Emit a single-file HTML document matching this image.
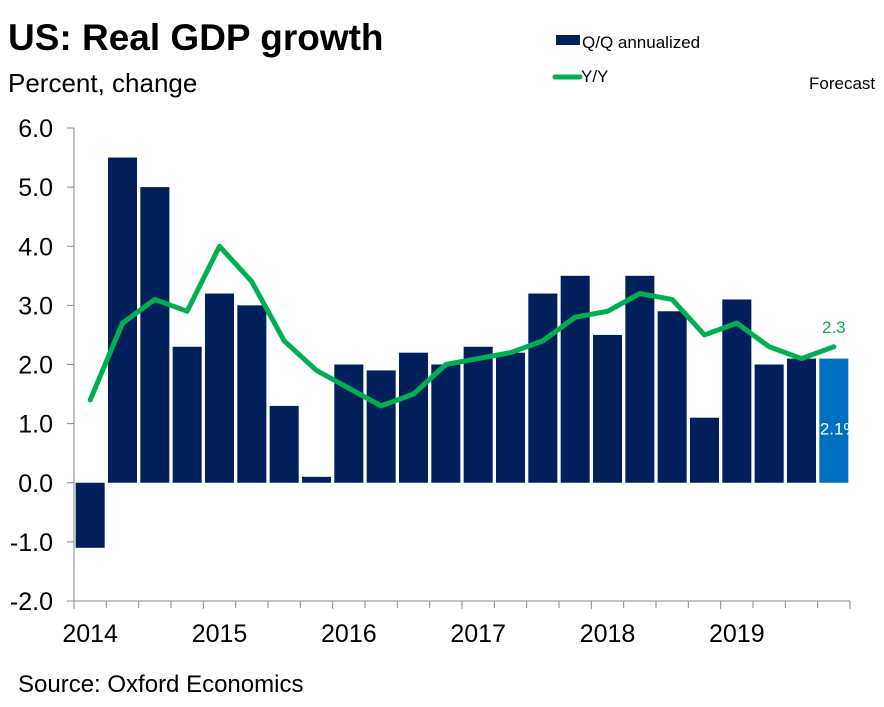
<!DOCTYPE html>
<html><head><meta charset="utf-8">
<style>
body{margin:0;background:#fff;width:884px;height:707px;overflow:hidden;font-family:"Liberation Sans",Arial,sans-serif}
svg{position:absolute;left:0;top:0}
</style></head>
<body>
<svg id="chart" width="884" height="707">
<text x="8" y="50" font-size="37" font-weight="bold" fill="#000">US: Real GDP growth</text>
<text x="8" y="92" font-size="26" fill="#000">Percent, change</text>
<rect x="556" y="35" width="24" height="10" fill="#001f5b"/>
<text x="582" y="48" font-size="17" fill="#000">Q/Q annualized</text>
<line x1="555" y1="77" x2="580" y2="77" stroke="#00b050" stroke-width="5" stroke-linecap="round"/>
<text x="581" y="82" font-size="17" fill="#000">Y/Y</text>
<text x="809" y="89" font-size="17" fill="#000">Forecast</text>
<text x="18" y="692" font-size="24" fill="#000">Source: Oxford Economics</text>
</svg>
<script>
const quarterly=[-1.1,5.5,5.0,2.3,3.2,3.0,1.3,0.1,2.0,1.9,2.2,2.0,2.3,2.2,3.2,3.5,2.5,3.5,2.9,1.1,3.1,2.0,2.1,2.1];
const yoy=[1.4,2.7,3.1,2.9,4.0,3.4,2.4,1.9,1.6,1.3,1.5,2.0,2.1,2.2,2.4,2.8,2.9,3.2,3.1,2.5,2.7,2.3,2.1,2.3];
const yTicks=[-2,-1,0,1,2,3,4,5,6];
const years=["2014","2015","2016","2017","2018","2019"];
const forecastFrom=23;
const NS="http://www.w3.org/2000/svg";
const svg=document.getElementById('chart');
const x0=74,x1=850,yTop=128,yBot=601,vMin=-2,vMax=6;
const n=quarterly.length,step=(x1-x0)/n;
const Y=v=>yBot-(v-vMin)/(vMax-vMin)*(yBot-yTop);
const X=i=>x0+step*(i+0.5);
function el(t,a){const e=document.createElementNS(NS,t);for(const k in a)e.setAttribute(k,a[k]);svg.appendChild(e);return e;}
let ax=el('line',{x1:x0,y1:yTop,x2:x0,y2:yBot,stroke:'#888','stroke-width':1});


yTicks.forEach(v=>{
 const t=el('line',{x1:x0-7,x2:x0,y1:Y(v),y2:Y(v),stroke:'#888'});
 
 
 const l=el('text',{x:x0-21,y:Y(v)+9,'text-anchor':'end','font-size':25,fill:'#000'});
 l.textContent=v.toFixed(1);
 
 
});
let xa=el('line',{x1:x0,y1:yBot,x2:x1,y2:yBot,stroke:'#888'});


for(let k=0;k<=n;k++){
 const xx=x0+k*step;
 const t=el('line',{x1:xx,x2:xx,y1:yBot,y2:yBot+(k%4===0?8:7),stroke:'#888'});
 
 
}
years.forEach((yr,k)=>{
 const l=el('text',{x:X(k*4),y:yBot+41,'text-anchor':'middle','font-size':25,fill:'#000'});
 l.textContent=yr;
 
 
});
quarterly.forEach((v,i)=>{
 const w=step-3.3,bx=X(i)-w/2,y=Math.min(Y(v),Y(0)),h=Math.max(1,Math.abs(Y(v)-Y(0)));
 const b=el('rect',{x:bx,y:y,width:w,height:h,fill:i>=forecastFrom?'#0070c0':'#001f5b'});
 
 
});
const pts=yoy.map((v,i)=>X(i)+','+Y(v)).join(' ');
const pl=el('polyline',{points:pts,fill:'none',stroke:'#00b050','stroke-width':5,'stroke-linejoin':'round','stroke-linecap':'round'});


const ll=el('text',{x:X(n-1),y:Y(yoy[n-1])-14,'text-anchor':'middle','font-size':17,fill:'#00b050'});
ll.textContent=yoy[n-1].toFixed(1);


const clip=el('clipPath',{id:'cl'});
const cr=document.createElementNS(NS,'rect');cr.setAttribute('x',x0);cr.setAttribute('y',0);cr.setAttribute('width',x1-x0);cr.setAttribute('height',707);clip.appendChild(cr);
const bl=el('text',{x:X(n-1)-14,y:Y(quarterly[n-1]/2)+14,'font-size':17,fill:'#fff','clip-path':'url(#cl)'});
bl.textContent=quarterly[n-1].toFixed(1)+'%';


</script>
</body></html>
